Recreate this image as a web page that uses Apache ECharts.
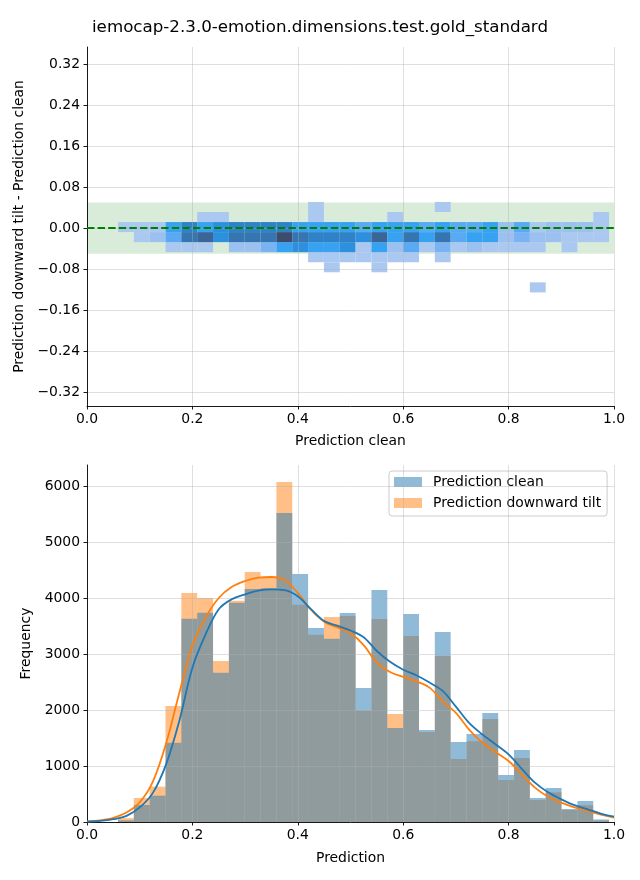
<!DOCTYPE html>
<html><head><meta charset="utf-8">
<script src="https://cdn.jsdelivr.net/npm/echarts@6/dist/echarts.min.js"></script>
<style>html,body{margin:0;padding:0;background:#fff}#c{width:640px;height:880px}</style>
</head><body><div id="c"></div>
<script>
const titleText = 'iemocap-2.3.0-emotion.dimensions.test.gold_standard';

// shared histogram bins (left edge of first bin, bin width)
const binStart = 0.0588;
const binWidth = 0.03006;

// bottom panel: histogram counts per bin
const histClean = [30, 304, 470, 1417, 3631, 3738, 2667, 3915, 4161, 4173, 5518, 4429, 3464, 3274, 3732, 2393, 4143, 1679, 3714, 1643, 3393, 1429, 1571, 1946, 839, 1286, 429, 607, 232, 375, 45];
const histTilt  = [70, 429, 631, 2071, 4089, 4000, 2875, 3950, 4464, 4375, 6071, 3881, 3345, 3661, 3679, 1988, 3625, 1929, 3321, 1607, 2964, 1125, 1440, 1839, 750, 1143, 393, 530, 214, 300, 25];

// KDE curves
const kdeX     = [0, 0.025, 0.05, 0.075, 0.1, 0.125, 0.15, 0.175, 0.2, 0.225, 0.25, 0.275, 0.3, 0.325, 0.35, 0.375, 0.4, 0.425, 0.45, 0.475, 0.5, 0.525, 0.55, 0.575, 0.6, 0.625, 0.65, 0.675, 0.7, 0.725, 0.75, 0.775, 0.8, 0.825, 0.85, 0.875, 0.9, 0.925, 0.95, 0.975, 1.0];
const kdeClean = [8, 20, 50, 110, 260, 520, 1030, 1800, 2756, 3350, 3800, 3980, 4065, 4130, 4155, 4140, 4030, 3800, 3590, 3505, 3420, 3300, 3054, 2860, 2720, 2620, 2490, 2340, 2060, 1770, 1565, 1390, 1208, 950, 702, 530, 405, 300, 226, 150, 95];
const kdeTilt  = [10, 30, 75, 170, 350, 720, 1400, 2300, 3150, 3650, 4000, 4200, 4304, 4365, 4375, 4320, 4090, 3790, 3577, 3475, 3370, 3160, 2845, 2680, 2590, 2510, 2399, 2150, 1950, 1650, 1417, 1250, 1089, 850, 613, 450, 345, 260, 196, 130, 77];

// top panel: 2D histogram, rows of density levels (1 = lightest, 10 = darkest), per x bin
const diffRowHeight = 0.0196;
const rowLowEdges = [-0.1255, -0.1059, -0.0863, -0.0667, -0.0471, -0.0275, -0.0079, 0.0117, 0.0313];
const rowM6 = [0,0,0,0,0,0,0,0,0,0,0,0,0,0,0,0,0,0,0,0,0,0,0,0,0,0,1,0,0,0,0];
const rowM5 = [0,0,0,0,0,0,0,0,0,0,0,0,0,0,0,0,0,0,0,0,0,0,0,0,0,0,0,0,0,0,0];
const rowM4 = [0,0,0,0,0,0,0,0,0,0,0,0,0,1,0,0,1,0,0,0,0,0,0,0,0,0,0,0,0,0,0];
const rowM3 = [0,0,0,0,0,0,0,0,0,0,0,0,1,1,1,1,1,1,1,0,1,0,0,0,0,0,0,0,0,0,0];
const rowM2 = [0,0,0,1,1,1,0,2,2,3,5,6,5,5,6,1,5,2,4,1,3,1,2,1,1,1,1,0,1,0,0];
const rowM1 = [0,1,2,4,8,9,6,8,8,8,10,8,7,7,7,6,9,5,8,5,8,4,5,5,2,3,2,2,1,1,1];
const row0  = [1,1,1,5,7,5,6,7,7,7,7,5,5,5,5,4,5,5,5,4,5,4,4,5,2,4,1,2,2,2,1];
const rowP1 = [0,0,0,0,0,1,1,0,0,0,0,0,1,0,0,0,0,1,0,0,0,0,0,0,0,0,0,0,0,0,1];
const rowP2 = [0,0,0,0,0,0,0,0,0,0,0,0,1,0,0,0,0,0,0,0,1,0,0,0,0,0,0,0,0,0,0];
const diffRows = [rowM6, rowM5, rowM4, rowM3, rowM2, rowM1, row0, rowP1, rowP2];

const bandLow = -0.05, bandHigh = 0.05;

const topYTicks = [-0.32, -0.24, -0.16, -0.08, 0, 0.08, 0.16, 0.24, 0.32];
const botYTicks = [0, 1000, 2000, 3000, 4000, 5000, 6000];

// ---- build data ----
const cells = [];
diffRows.forEach((row, r) => {
  row.forEach((lv, c) => {
    if (lv > 0) {
      const x0 = binStart + c * binWidth;
      const y0 = rowLowEdges[r];
      cells.push([x0, x0 + binWidth, y0, y0 + diffRowHeight, lv]);
    }
  });
});
const histData = arr => arr.map((v, i) => [binStart + i * binWidth, binStart + (i + 1) * binWidth, v]);
const kdeData = arr => arr.map((v, i) => [kdeX[i], v]);

const FONT = 'DejaVu Sans';
const FS = 13.9;
const palette = ['#abc8f0', '#9cc0f0', '#7ab3f3', '#5aa9f5', '#38a2f2', '#2d90de', '#2f82c8', '#3475b2', '#3a6596', '#3d4c6e'];

function rectItem(color) {
  return function (params, api) {
    const p0 = api.coord([api.value(0), api.value(2)]);
    const p1 = api.coord([api.value(1), api.value(3)]);
    return {
      type: 'rect',
      shape: { x: p0[0], y: p1[1], width: p1[0] - p0[0], height: p0[1] - p1[1] },
      style: { fill: color || api.visual('color') }
    };
  };
}
function histItem(color) {
  return function (params, api) {
    const p0 = api.coord([api.value(0), 0]);
    const p1 = api.coord([api.value(1), api.value(2)]);
    return {
      type: 'rect',
      shape: { x: p0[0], y: p1[1], width: p1[0] - p0[0], height: p0[1] - p1[1] },
      style: { fill: color }
    };
  };
}

const gridLine = { show: true, lineStyle: { color: 'rgba(176,176,176,0.5)', width: 0.8 } };
const axisLine = { show: true, onZero: false, lineStyle: { color: '#000', width: 0.9 } };
const axisTick = { show: true, inside: false, length: 3.5, lineStyle: { color: '#000', width: 0.9 } };
const labelStyle = { color: '#000', fontFamily: FONT, fontSize: FS };
const nameStyle = { color: '#000', fontFamily: FONT, fontSize: FS };

const chart = echarts.init(document.getElementById('c'), null, { renderer: 'canvas' });
chart.setOption({
  animation: false,
  backgroundColor: '#fff',
  title: {
    text: titleText, left: 'center', top: 19, padding: 0,
    textStyle: { fontFamily: FONT, fontSize: 16.7, fontWeight: 'normal', color: '#000' }
  },
  legend: {
    left: 389, top: 471, orient: 'vertical',
    data: [
      { name: 'Prediction clean', itemStyle: { color: 'rgba(31,119,180,0.5)' } },
      { name: 'Prediction downward tilt', itemStyle: { color: 'rgba(255,127,14,0.5)' } }
    ],
    icon: 'rect', itemWidth: 28, itemHeight: 10, itemGap: 7,
    padding: [4, 6, 6, 5],
    backgroundColor: 'rgba(255,255,255,0.8)', borderColor: '#cccccc', borderWidth: 1, borderRadius: 3,
    textStyle: { fontFamily: FONT, fontSize: FS, color: '#000', lineHeight: 14, padding: [0, 0, 0, 6] }
  },
  visualMap: {
    type: 'continuous', show: false, seriesIndex: 1, dimension: 4, min: 1, max: 10,
    inRange: { color: palette }
  },
  grid: [
    { left: 87, top: 47, width: 527, height: 359 },
    { left: 87, top: 465, width: 527, height: 357 }
  ],
  xAxis: [
    {
      type: 'value', gridIndex: 0, min: 0, max: 1, interval: 0.2, z: 10,
      name: 'Prediction clean', nameLocation: 'middle', nameGap: 28, nameTextStyle: nameStyle,
      axisLine, axisTick, splitLine: gridLine,
      axisLabel: { ...labelStyle, margin: 6, formatter: v => v.toFixed(1) }
    },
    {
      type: 'value', gridIndex: 1, min: 0, max: 1, interval: 0.2, z: 10,
      name: 'Prediction', nameLocation: 'middle', nameGap: 29, nameTextStyle: nameStyle,
      axisLine, axisTick, splitLine: gridLine,
      axisLabel: { ...labelStyle, margin: 6, formatter: v => v.toFixed(1) }
    }
  ],
  yAxis: [
    {
      type: 'value', gridIndex: 0, min: -0.347, max: 0.353, z: 10,
      name: 'Prediction downward tilt - Prediction clean', nameLocation: 'middle', nameGap: 56, nameTextStyle: nameStyle,
      axisLine, axisTick: { ...axisTick, customValues: topYTicks }, splitLine: gridLine,
      axisLabel: {
        ...labelStyle, margin: 7, customValues: topYTicks,
        formatter: v => (v < -1e-9 ? '\u2212' : '') + Math.abs(v).toFixed(2)
      }
    },
    {
      type: 'value', gridIndex: 1, min: 0, max: 6375, z: 10,
      name: 'Frequency', nameLocation: 'middle', nameGap: 46, nameTextStyle: nameStyle,
      axisLine, axisTick: { ...axisTick, customValues: botYTicks }, splitLine: gridLine,
      axisLabel: { ...labelStyle, margin: 7, customValues: botYTicks, formatter: v => String(v) }
    }
  ],
  series: [
    {
      type: 'custom', name: 'band', xAxisIndex: 0, yAxisIndex: 0, z: 1,
      renderItem: rectItem('rgba(0,128,0,0.15)'),
      encode: { x: [0, 1], y: [2, 3] },
      data: [[0, 1, bandLow, bandHigh]], silent: true
    },
    {
      type: 'custom', name: 'cells', xAxisIndex: 0, yAxisIndex: 0, z: 2,
      renderItem: rectItem(null),
      encode: { x: [0, 1], y: [2, 3] },
      data: cells
    },
    {
      type: 'line', name: 'zero', xAxisIndex: 0, yAxisIndex: 0, z: 12,
      data: [[0, 0], [1, 0]], symbol: 'none',
      lineStyle: { color: '#008000', width: 2, type: [7.4, 3.2] }, silent: true
    },
    {
      type: 'custom', name: 'Prediction downward tilt', xAxisIndex: 1, yAxisIndex: 1, z: 2,
      renderItem: histItem('rgba(255,127,14,0.5)'),
      encode: { x: [0, 1], y: 2 },
      itemStyle: { color: 'rgba(255,127,14,0.5)' },
      data: histData(histTilt)
    },
    {
      type: 'custom', name: 'Prediction clean', xAxisIndex: 1, yAxisIndex: 1, z: 3,
      renderItem: histItem('rgba(31,119,180,0.5)'),
      encode: { x: [0, 1], y: 2 },
      itemStyle: { color: 'rgba(31,119,180,0.5)' },
      data: histData(histClean)
    },
    {
      type: 'line', name: 'kde tilt', xAxisIndex: 1, yAxisIndex: 1, z: 12,
      data: kdeData(kdeTilt), symbol: 'none', smooth: 0.35,
      lineStyle: { color: '#ff7f0e', width: 1.8 }
    },
    {
      type: 'line', name: 'kde clean', xAxisIndex: 1, yAxisIndex: 1, z: 13,
      data: kdeData(kdeClean), symbol: 'none', smooth: 0.35,
      lineStyle: { color: '#1f77b4', width: 1.8 }
    }
  ]
});
</script>
</body></html>
